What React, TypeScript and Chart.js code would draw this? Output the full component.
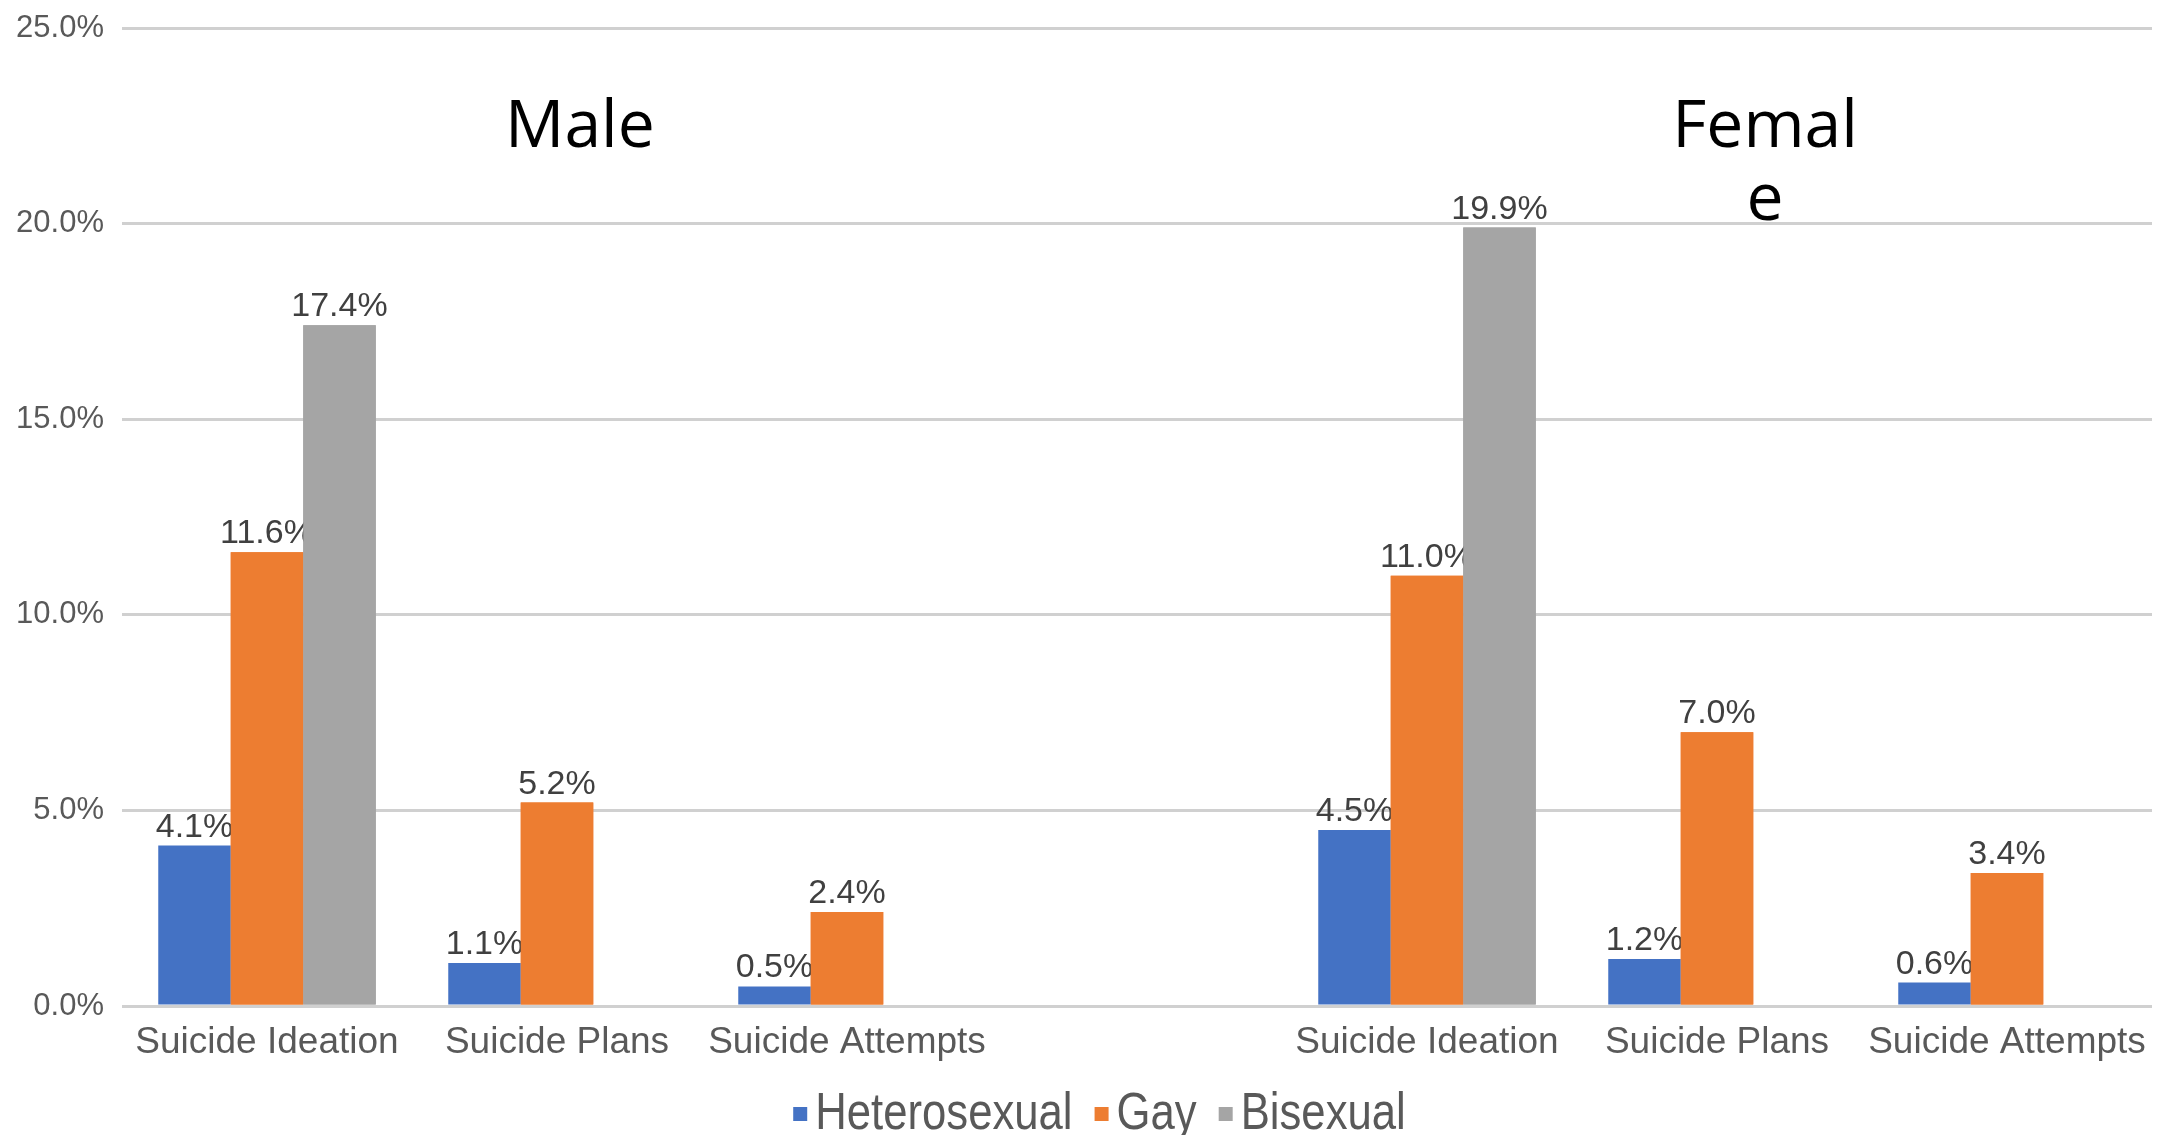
import React, { useEffect, useRef } from "react";
import { Chart, registerables } from "chart.js";

Chart.register(...registerables);

// Categories along the x axis; the empty slot separates the male and female groups.
const categories = [
  "Suicide Ideation",
  "Suicide Plans",
  "Suicide Attempts",
  "",
  "Suicide Ideation",
  "Suicide Plans",
  "Suicide Attempts",
];

// Percentages per orientation (null = not reported).
const heterosexual = [4.1, 1.1, 0.5, null, 4.5, 1.2, 0.6];
const gay = [11.6, 5.2, 2.4, null, 11.0, 7.0, 3.4];
const bisexual = [17.4, null, null, null, 19.9, null, null];

const seriesNames = ["Heterosexual", "Gay", "Bisexual"];
const seriesColors = ["#4472C4", "#ED7D31", "#A5A5A5"];

const yTicks = [0, 5, 10, 15, 20, 25];

// Group headings, each given as its wrapped lines.
const groupTitles = [["Male"], ["Femal", "e"]];

const SANS = "'Liberation Sans', Arial, Helvetica, sans-serif";

// Value labels: each series' labels are drawn, then the next series' bars are
// redrawn so they overlap the previous labels.
const valueLabels = {
  id: "valueLabels",
  afterDatasetsDraw(chart: any) {
    const ctx = chart.ctx;
    const count = chart.data.datasets.length;
    for (let i = 0; i < count; i++) {
      const meta = chart.getDatasetMeta(i);
      if (i > 0) {
        meta.data.forEach((el: any, j: number) => {
          if (chart.data.datasets[i].data[j] != null) el.draw(ctx);
        });
      }
      const values = chart.data.datasets[i].data;
      ctx.save();
      ctx.font = `34px ${SANS}`;
      ctx.fillStyle = "#404040";
      ctx.textAlign = "center";
      ctx.textBaseline = "alphabetic";
      meta.data.forEach((el: any, j: number) => {
        const v = values[j];
        if (v == null) return;
        ctx.fillText(`${Number(v).toFixed(1)}%`, el.x, el.y - 9);
      });
      ctx.restore();
    }
  },
};

// Group headings over the plot.
const headings = {
  id: "headings",
  afterDraw(chart: any) {
    const { ctx, chartArea } = chart;
    const centers = [0.2256, 0.8094];
    ctx.save();
    ctx.font = "66px 'Open Sans', Lato, sans-serif";
    ctx.fillStyle = "#000000";
    ctx.textAlign = "center";
    ctx.textBaseline = "alphabetic";
    groupTitles.forEach((lines, g) => {
      const x = chartArea.left + (chartArea.right - chartArea.left) * centers[g];
      lines.forEach((line, k) => {
        ctx.fillText(line, x, chartArea.top + 119 + k * 73);
      });
    });
    ctx.restore();
  },
};

// Legend row along the bottom edge.
const bottomLegend = {
  id: "bottomLegend",
  afterDraw(chart: any) {
    const ctx = chart.ctx;
    const box = 14;
    const boxGap = 8;
    const itemGap = 22;
    const squeeze = 0.84;
    ctx.save();
    ctx.font = `52px ${SANS}`;
    const items = chart.data.datasets.map((ds: any) => ({
      label: ds.label,
      color: ds.backgroundColor,
      w: ctx.measureText(ds.label).width * squeeze,
    }));
    const total =
      items.reduce((s: number, it: any) => s + box + boxGap + it.w, 0) +
      itemGap * (items.length - 1);
    let x = chart.width / 2 + 16 - total / 2;
    const cy = chart.height - 22;
    items.forEach((it: any) => {
      ctx.fillStyle = it.color;
      ctx.fillRect(x, cy - box / 2 + 1, box, box);
      x += box + boxGap;
      ctx.save();
      ctx.translate(x, cy);
      ctx.scale(squeeze, 1);
      ctx.fillStyle = "#595959";
      ctx.textAlign = "left";
      ctx.textBaseline = "middle";
      ctx.fillText(it.label, 0, 2);
      ctx.restore();
      x += it.w + itemGap;
    });
    ctx.restore();
  },
};

export default function App() {
  const canvasRef = useRef<HTMLCanvasElement | null>(null);

  useEffect(() => {
    const canvas = canvasRef.current;
    if (!canvas) return;
    const chart = new Chart(canvas, {
      type: "bar",
      data: {
        labels: categories,
        datasets: [
          { label: seriesNames[0], data: heterosexual, backgroundColor: seriesColors[0] },
          { label: seriesNames[1], data: gay, backgroundColor: seriesColors[1] },
          { label: seriesNames[2], data: bisexual, backgroundColor: seriesColors[2] },
        ],
      },
      options: {
        responsive: false,
        animation: false,
        devicePixelRatio: 1,
        layout: { padding: { top: 28, right: 15, bottom: 0, left: 0 } },
        datasets: {
          bar: { categoryPercentage: 0.75, barPercentage: 1.0, borderWidth: 0 },
        },
        plugins: {
          legend: { display: false },
          tooltip: { enabled: false },
          title: { display: false },
        },
        scales: {
          x: {
            grid: { display: false, drawTicks: false },
            border: { display: false },
            ticks: {
              color: "#595959",
              font: { size: 37, family: SANS },
              padding: 15,
              maxRotation: 0,
              autoSkip: false,
            },
            afterFit: (s: any) => {
              s.height = 129;
              s.paddingLeft = 0;
              s.paddingRight = 0;
            },
          },
          y: {
            min: 0,
            max: 25,
            afterBuildTicks: (s: any) => {
              s.ticks = yTicks.map((v) => ({ value: v }));
            },
            ticks: {
              color: "#595959",
              font: { size: 31, family: SANS },
              padding: 18,
              callback: (v: any) => `${Number(v).toFixed(1)}%`,
            },
            grid: { color: "#D0D0D0", lineWidth: 3, drawTicks: false },
            border: { display: false },
            afterFit: (s: any) => {
              s.width = 122;
              s.paddingTop = 0;
              s.paddingBottom = 0;
            },
          },
        },
      },
      plugins: [valueLabels, headings, bottomLegend],
    });
    return () => chart.destroy();
  }, []);

  return (
    <div
      style={{
        position: "fixed",
        left: 0,
        top: 0,
        width: 2167,
        height: 1135,
        background: "#ffffff",
      }}
    >
      <canvas ref={canvasRef} width={2167} height={1135} />
    </div>
  );
}
